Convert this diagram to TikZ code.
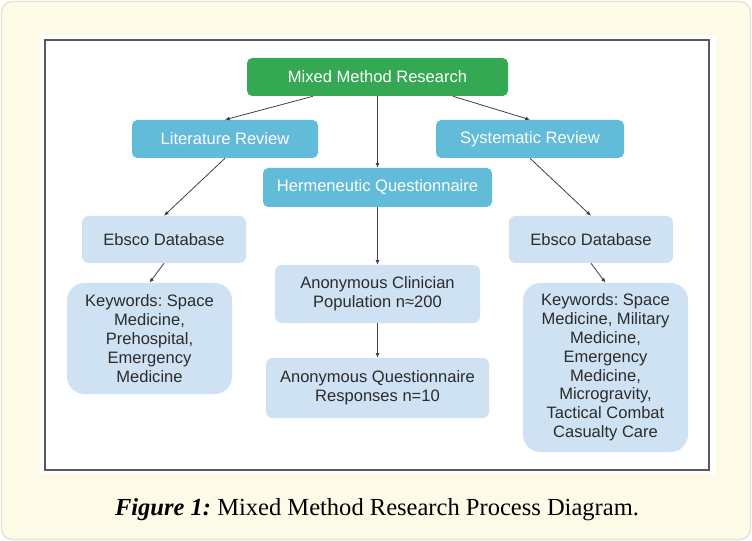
\documentclass[tikz,border=0pt]{standalone}
\usepackage{xcolor}
\usepackage{fontspec}
\setmainfont{Liberation Serif}
\setsansfont{Liberation Sans}
\usepackage{tikz}
\usetikzlibrary{arrows.meta}
\frenchspacing

\definecolor{paper}{HTML}{FEFAE8}
\definecolor{paperline}{HTML}{E4E2D8}
\definecolor{mmgreen}{HTML}{35A853}
\definecolor{midblue}{HTML}{62BBD8}
\definecolor{paleblue}{HTML}{CFE2F3}
\definecolor{ink}{HTML}{2B2B2B}

\tikzset{
  box/.style={rounded corners=4pt, inner sep=0pt, align=center, font=\sffamily\fontsize{12.4}{14.1}\selectfont},
  topbox/.style={box, fill=mmgreen, text=white},
  revbox/.style={box, fill=midblue, text=white},
  infobox/.style={box, fill=paleblue, text=ink, rounded corners=5pt},
  keybox/.style={infobox, rounded corners=13pt},
  link/.style={-{Latex[length=3.5pt,width=3pt]}, draw=ink!90, line width=0.6pt}
}

\begin{document}
\begin{tikzpicture}[x=0.75pt, y=-0.75pt]
    \useasboundingbox (0,0) rectangle (752,541);
    \draw[fill=paper, draw=paperline, line width=1pt, rounded corners=8pt] (1.5,1.5) rectangle (750.5,539.5);
    \fill[white] (40,35) rectangle (716,474);
    \draw[draw=black!65, line width=0.8pt] (45,40) rectangle (709,470);

    \node[topbox, minimum width=195.75pt, minimum height=28.5pt] (mmr) at (377.5,77) {Mixed Method Research};
    \node[revbox, minimum width=139.5pt, minimum height=28.5pt] (lit) at (225,139) {Literature Review};
    \node[revbox, minimum width=141pt, minimum height=28.5pt] (sys) at (530,139) {Systematic Review};
    \node[revbox, minimum width=171.75pt, minimum height=29.25pt] (herm) at (377.5,187.5) {Hermeneutic Questionnaire};

    \node[infobox, minimum width=123pt, minimum height=35.25pt] (ebL) at (164,239.5) {Ebsco Database};
    \node[infobox, minimum width=123pt, minimum height=35.25pt] (ebR) at (591,239.5) {Ebsco Database};
    \node[infobox, minimum width=153.75pt, minimum height=43.5pt] (clin) at (377.5,294) {Anonymous Clinician\\Population n≈200};
    \node[infobox, minimum width=167.25pt, minimum height=45pt] (resp) at (377.5,388) {Anonymous Questionnaire\\Responses n=10};

    \node[keybox, minimum width=123.75pt, minimum height=83.25pt] (kwL) at (149.5,338.5) {Keywords: Space\\Medicine,\\Prehospital,\\Emergency\\Medicine};
    \node[keybox, minimum width=123.75pt, minimum height=126.75pt] (kwR) at (605.5,367.5) {Keywords: Space\\Medicine, Military\\Medicine,\\Emergency\\Medicine,\\Microgravity,\\Tactical Combat\\Casualty Care};

    \path
      ([xshift=-48.4pt]mmr.south) edge[link] (lit.north)
      ([xshift=56.6pt]mmr.south) edge[link] (sys.north)
      (mmr.south) edge[link] (herm.north)
      (lit.south) edge[link] (ebL.north)
      (sys.south) edge[link] (ebR.north)
      (ebL.south) edge[link] (kwL.north)
      (ebR.south) edge[link] (kwR.north)
      (herm.south) edge[link] (clin.north)
      (clin.south) edge[link] (resp.north);

    \node[font=\fontsize{18.4}{21}\selectfont, text=black, inner sep=0pt] (caption) at (377,510)
      {\textbf{\textit{Figure 1:}} Mixed Method Research Process Diagram.};
\end{tikzpicture}
\end{document}
